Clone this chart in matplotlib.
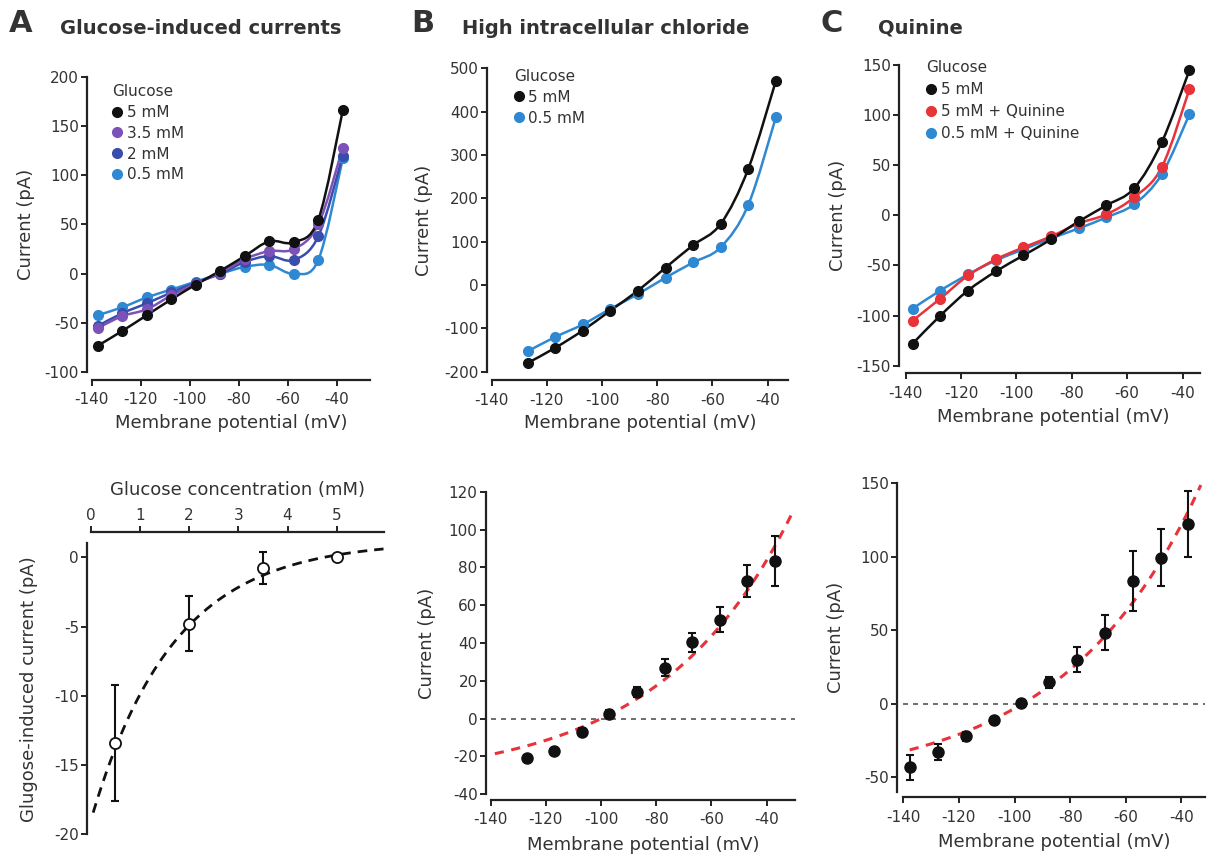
import numpy as np
import matplotlib
matplotlib.use("Agg")
import matplotlib.pyplot as plt
from matplotlib.path import Path
from matplotlib.patches import PathPatch
from matplotlib.lines import Line2D

plt.rcParams['font.family'] = ['DejaVu Sans']
plt.rcParams['axes.unicode_minus'] = False
TXT = '#333333'
AX = '#222222'

# ---------------- data ----------------
# Panel A (top): glucose-induced I-V curves
vA = [-137.5, -127.5, -117.5, -107.5, -97.5, -87.5, -77.5, -67.5, -57.5, -47.5, -37.5]
iA_5 = [-73, -58, -42, -26, -11, 3, 18, 33, 32, 55, 166]
iA_35 = [-55, -43, -36, -22, -10, 1, 15, 23, 25, 50, 128]
iA_2 = [-53, -40, -30, -19, -9, 0, 12, 18, 14, 38, 120]
iA_05 = [-42, -34, -24, -16, -8, 0, 7, 9, 0, 14, 117]
labelsA = ['5 mM', '3.5 mM', '2 mM', '0.5 mM']

# Panel B (top): high intracellular chloride
vB = [-127, -117, -107, -97, -87, -77, -67, -57, -47, -37]
iB_5 = [-180, -145, -105, -59, -13, 40, 92, 141, 268, 471]
iB_05 = [-153, -120, -91, -55, -21, 17, 52, 87, 185, 387]
labelsB = ['5 mM', '0.5 mM']

# Panel C (top): quinine
vC = [-137.5, -127.5, -117.5, -107.5, -97.5, -87.5, -77.5, -67.5, -57.5, -47.5, -37.5]
iC_5 = [-128, -100, -75, -56, -40, -24, -6, 10, 27, 73, 145]
iC_5q = [-105, -83, -60, -44, -32, -21, -8, 1, 18, 48, 126]
iC_05q = [-93, -75, -59, -45, -34, -23, -13, -2, 11, 41, 101]
labelsC = ['5 mM', '5 mM + Quinine', '0.5 mM + Quinine']

# Panel A (bottom): dose response
glc = [0.5, 2.0, 3.5, 5.0]
glc_i = [-13.4, -4.8, -0.8, 0.0]
glc_err = [4.2, 2.0, 1.15, 0.0]
fitA = dict(c=1.17, b=20.2, k=0.6)  # exponential fit parameters

# Panel B (bottom): difference current
vBd = [-127, -117, -107, -97, -87, -77, -67, -57, -47, -37]
iBd = [-21, -17.3, -7, 2.7, 14, 27, 40.5, 52.2, 72.7, 83.5]
iBd_err = [1.5, 1.5, 2, 2, 2.5, 4.3, 5, 6.6, 8.4, 13.3]
fitB = dict(A=33.6, V0=-100.0, s=48.0)

# Panel C (bottom): difference current
vCd = [-137.5, -127.5, -117.5, -107.5, -97.5, -87.5, -77.5, -67.5, -57.5, -47.5, -37.5]
iCd = [-43.2, -33.2, -22.3, -10.9, 0.5, 14.5, 30, 48.2, 83.4, 99.3, 122]
iCd_err = [8.5, 5.5, 3, 2, 1, 3.6, 8.5, 12, 20.5, 19.3, 22.5]
fitC = dict(A=56.3, V0=-97.0, s=49.5)

# colours
BLACK = '#111111'
PURPLE = '#7d52b8'
DBLUE = '#3a4dac'
LBLUE = '#2f88d2'
RED = '#e8333a'

TICK_FS = 11
LAB_FS = 13
LEG_FS = 11

W, H = 1208, 863
fig = plt.figure(figsize=(W / 100, H / 100), dpi=100)


def add_ax(left, right, top, bottom):
    return fig.add_axes([left / W, 1 - bottom / H, (right - left) / W, (bottom - top) / H])


def style(ax, xout, yout, top=False):
    ax.spines['right'].set_visible(False)
    if top:
        ax.spines['bottom'].set_visible(False)
        ax.spines['top'].set_position(('outward', xout))
        ax.xaxis.set_ticks_position('top')
        ax.xaxis.set_label_position('top')
    else:
        ax.spines['top'].set_visible(False)
        ax.spines['bottom'].set_position(('outward', xout))
    ax.spines['left'].set_position(('outward', yout))
    for s in ax.spines.values():
        s.set_linewidth(1.6)
        s.set_color(AX)
    ax.tick_params(direction='out', length=4, width=1.4, colors=AX,
                   labelcolor=TXT, labelsize=TICK_FS, pad=2)
    if not top:
        ax.tick_params(axis='x', pad=5)
    ax.patch.set_alpha(0)


def smooth(ax, x, y, color, lw=1.8):
    P = np.column_stack([x, y]).astype(float)
    n = len(P)
    verts = [P[0]]
    codes = [Path.MOVETO]
    for i in range(n - 1):
        p0 = P[i - 1] if i > 0 else P[i]
        p1 = P[i]
        p2 = P[i + 1]
        p3 = P[i + 2] if i + 2 < n else P[i + 1]
        c1 = p1 + (p2 - p0) / 6.0
        c2 = p2 - (p3 - p1) / 6.0
        verts += [c1, c2, p2]
        codes += [Path.CURVE4] * 3
    ax.add_patch(PathPatch(Path(verts, codes), fill=False, edgecolor=color,
                           lw=lw, transform=ax.transData, capstyle='round',
                           joinstyle='round', zorder=2))
    ax.plot(x, y, 'o', color=color, ms=7, mec=color, zorder=3, clip_on=False)


def legend(ax, colors, labels, anchor, spacing=0.3):
    handles = [Line2D([], [], marker='o', ls='none', color=c, ms=7) for c in colors]
    leg = ax.legend(handles, labels, title='Glucose', loc='upper left',
                    bbox_to_anchor=anchor, frameon=False, handlelength=0.6,
                    handletextpad=0.35, labelspacing=spacing, borderaxespad=0,
                    borderpad=0, alignment='left', fontsize=LEG_FS,
                    title_fontsize=LEG_FS)
    for t in leg.get_texts():
        t.set_color(TXT)
    leg.get_title().set_color(TXT)


XL = 'Membrane potential (mV)'
YL = 'Current (pA)'

# ---------- A top ----------
ax = add_ax(91.7, 370, 76.7, 372.3)
style(ax, 5.5, 3.2)
for y, c in zip([iA_05, iA_2, iA_35, iA_5], [LBLUE, DBLUE, PURPLE, BLACK]):
    smooth(ax, vA, y, c)
ax.set_xlim(-140, -26.4)
ax.set_ylim(-100, 200)
ax.set_xticks([-140, -120, -100, -80, -60, -40])
ax.set_yticks([-100, -50, 0, 50, 100, 150, 200])
ax.set_xlabel(XL, fontsize=LAB_FS, color=TXT, labelpad=5)
ax.set_ylabel(YL, fontsize=LAB_FS, color=TXT, labelpad=7)
legend(ax, [BLACK, PURPLE, DBLUE, LBLUE], labelsA, (0.075, 0.975), spacing=0.38)

# ---------- B top ----------
ax = add_ax(491.7, 788, 68.3, 371.7)
style(ax, 6, 3.2)
for y, c in zip([iB_05, iB_5], [LBLUE, BLACK]):
    smooth(ax, vB, y, c)
ax.set_xlim(-140, -32.6)
ax.set_ylim(-200, 500)
ax.set_xticks([-140, -120, -100, -80, -60, -40])
ax.set_yticks([-200, -100, 0, 100, 200, 300, 400, 500])
ax.set_xlabel(XL, fontsize=LAB_FS, color=TXT, labelpad=5)
ax.set_ylabel(YL, fontsize=LAB_FS, color=TXT, labelpad=8)
legend(ax, [BLACK, LBLUE], labelsB, (0.075, 0.998), spacing=0.38)

# ---------- C top ----------
ax = add_ax(905.7, 1200, 65, 365.7)
style(ax, 5.5, 4.6)
for y, c in zip([iC_05q, iC_5q, iC_5], [LBLUE, RED, BLACK]):
    smooth(ax, vC, y, c)
ax.set_xlim(-140, -33.7)
ax.set_ylim(-150, 150)
ax.set_xticks([-140, -120, -100, -80, -60, -40])
ax.set_yticks([-150, -100, -50, 0, 50, 100, 150])
ax.set_xlabel(XL, fontsize=LAB_FS, color=TXT, labelpad=5)
ax.set_ylabel(YL, fontsize=LAB_FS, color=TXT, labelpad=7)
legend(ax, [BLACK, RED, LBLUE], labelsC, (0.07, 1.015), spacing=0.45)

# ---------- A bottom ----------
ax = add_ax(90.7, 383.5, 543.4, 834.3)
style(ax, 8.4, 2.4, top=True)
xf = np.linspace(0.05, 5.95, 200)
ax.plot(xf, fitA['c'] - fitA['b'] * np.exp(-fitA['k'] * xf), color=BLACK,
        lw=2, dashes=(3.5, 2.5), zorder=2)
ax.errorbar(glc[:3], glc_i[:3], yerr=glc_err[:3], fmt='none', ecolor=BLACK,
            elinewidth=1.5, capsize=3, capthick=1.5, zorder=3)
ax.plot(glc, glc_i, 'o', mfc='white', mec=BLACK, mew=1.3, ms=8, zorder=4)
ax.set_xlim(0, 5.95)
ax.set_ylim(-20, 1)
ax.set_xticks([0, 1, 2, 3, 4, 5])
ax.set_yticks([-20, -15, -10, -5, 0])
ax.set_xlabel('Glucose concentration (mM)', fontsize=LAB_FS, color=TXT, labelpad=10)
ax.set_ylabel('Glugose-induced current (pA)', fontsize=LAB_FS, color=TXT, labelpad=12)

# ---------- B bottom ----------
ax = add_ax(490.7, 795, 491.7, 794.3)
style(ax, 4.1, 3.4)
ax.axhline(0, color='#555555', lw=1.2, dashes=(3, 3), zorder=1)
vf = np.linspace(-138.5, -30, 200)
ax.plot(vf, fitB['A'] * (np.exp((vf - fitB['V0']) / fitB['s']) - 1), color=RED,
        lw=2.2, dashes=(3, 2.5), zorder=2)
ax.errorbar(vBd, iBd, yerr=iBd_err, fmt='o', color=BLACK, ms=8, elinewidth=1.5,
            capsize=3, capthick=1.5, zorder=3)
ax.set_xlim(-140, -29.7)
ax.set_ylim(-40, 120)
ax.set_xticks([-140, -120, -100, -80, -60, -40])
ax.set_yticks([-40, -20, 0, 20, 40, 60, 80, 100, 120])
ax.set_xlabel(XL, fontsize=LAB_FS, color=TXT, labelpad=6)
ax.set_ylabel(YL, fontsize=LAB_FS, color=TXT, labelpad=9)

# ---------- C bottom ----------
ax = add_ax(903.3, 1205, 483.3, 791.7)
style(ax, 4.0, 4.3)
ax.axhline(0, color='#555555', lw=1.2, dashes=(3, 3), zorder=1)
vf = np.linspace(-137.7, -33, 200)
ax.plot(vf, fitC['A'] * (np.exp((vf - fitC['V0']) / fitC['s']) - 1), color=RED,
        lw=2.2, dashes=(3, 2.5), zorder=2)
ax.errorbar(vCd, iCd, yerr=iCd_err, fmt='o', color=BLACK, ms=8, elinewidth=1.5,
            capsize=3, capthick=1.5, zorder=3)
ax.set_xlim(-140, -31.5)
ax.set_ylim(-60, 150)
ax.set_xticks([-140, -120, -100, -80, -60, -40])
ax.set_yticks([-50, 0, 50, 100, 150])
ax.set_xlabel(XL, fontsize=LAB_FS, color=TXT, labelpad=6)
ax.set_ylabel(YL, fontsize=LAB_FS, color=TXT, labelpad=11)

# ---------- panel titles ----------
def ptxt(x, y, s, size):
    fig.text(x / W, 1 - y / H, s, fontsize=size, fontweight='bold', color=TXT,
             ha='left', va='center')

ptxt(9, 23, 'A', 22)
ptxt(60, 28, 'Glucose-induced currents', 14)
ptxt(411, 23, 'B', 22)
ptxt(462, 28, 'High intracellular chloride', 14)
ptxt(821, 23, 'C', 22)
ptxt(878, 28, 'Quinine', 14)

fig.savefig('out.png', dpi=100)
